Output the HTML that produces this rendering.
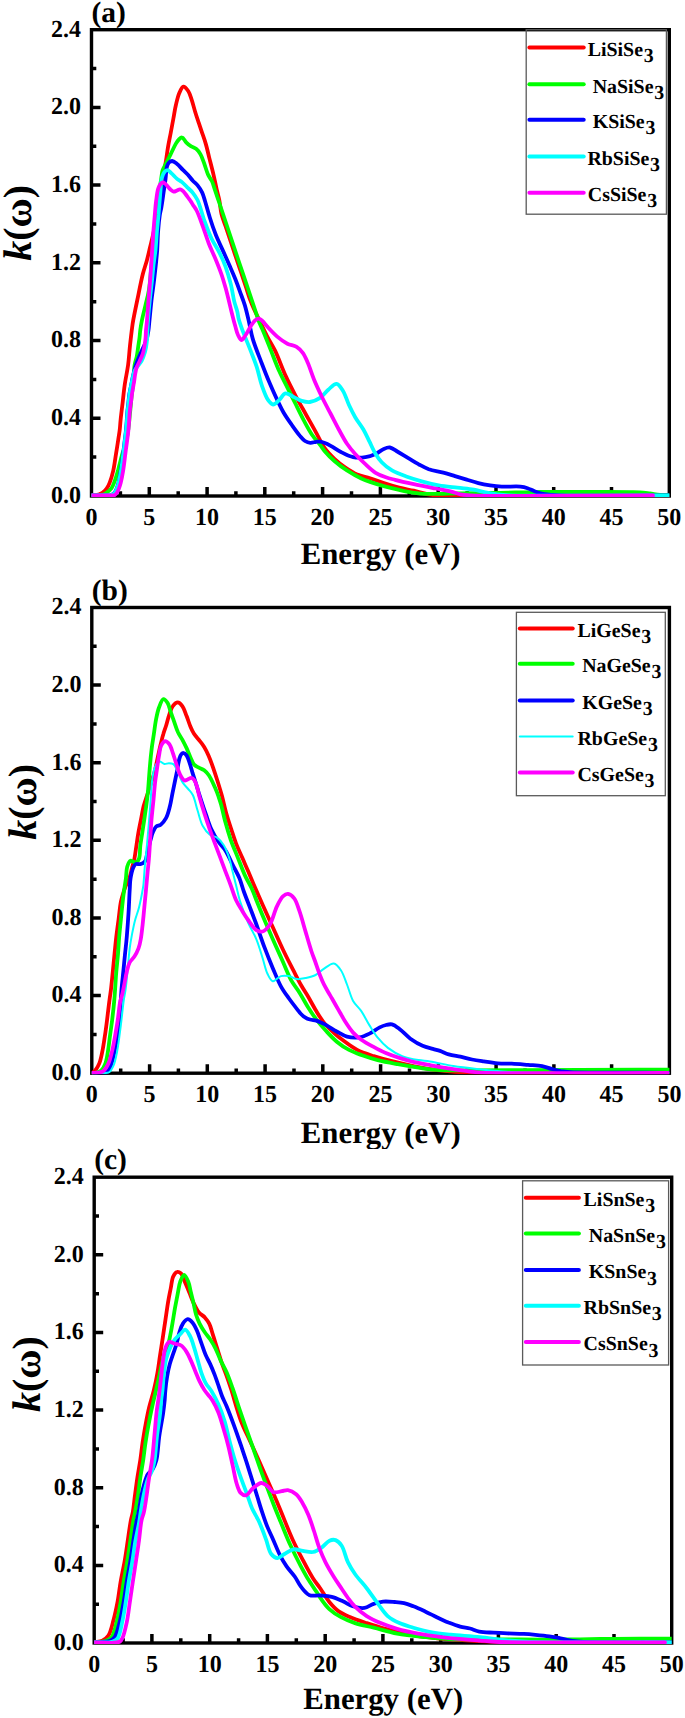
<!DOCTYPE html><html><head><meta charset="utf-8"><style>
html,body{margin:0;padding:0;background:#fff;width:685px;height:1718px;overflow:hidden}
svg{display:block;text-rendering:geometricPrecision}
text{font-family:"Liberation Serif", serif;font-weight:bold;fill:#000}
.t{font-size:24.0px}.xt{font-size:30.8px}.yt{font-size:40.0px}.pl{font-size:29.5px}.lg{font-size:19.9px}
</style></head><body>
<svg width="685" height="1718" viewBox="0 0 685 1718">
<rect x="91.5" y="29.7" width="577.8" height="466.3" fill="none" stroke="#000" stroke-width="3.4"/>
<path d="M120.4 496.0V491.2M149.3 496.0V487.0M178.2 496.0V491.2M207.1 496.0V487.0M235.9 496.0V491.2M264.8 496.0V487.0M293.7 496.0V491.2M322.6 496.0V487.0M351.5 496.0V491.2M380.4 496.0V487.0M409.3 496.0V491.2M438.2 496.0V487.0M467.1 496.0V491.2M496.0 496.0V487.0M524.9 496.0V491.2M553.7 496.0V487.0M582.6 496.0V491.2M611.5 496.0V487.0M640.4 496.0V491.2M91.5 457.1H96.3M91.5 418.3H100.5M91.5 379.4H96.3M91.5 340.6H100.5M91.5 301.7H96.3M91.5 262.8H100.5M91.5 224.0H96.3M91.5 185.1H100.5M91.5 146.3H96.3M91.5 107.4H100.5M91.5 68.6H96.3" stroke="#000" stroke-width="3.5" fill="none"/>
<clipPath id="clipa"><rect x="91.5" y="29.7" width="577.8" height="467.3"/></clipPath>
<g clip-path="url(#clipa)" fill="none" stroke-width="3.8" stroke-linejoin="round" stroke-linecap="round">
<path stroke="#ff0000" d="M91.8 495.5 C93.2 495.4 94.7 495.4 96.0 495.2 C97.2 495.0 98.1 494.7 99.2 494.3 C100.4 493.8 101.6 493.3 102.7 492.5 C104.1 491.5 105.7 490.0 106.8 488.4 C108.0 486.7 108.8 484.9 109.7 482.6 C111.0 479.4 112.2 475.2 113.2 470.9 C114.4 465.7 115.2 458.8 116.1 453.4 C116.9 448.6 117.6 444.1 118.2 440.0 C118.7 436.4 119.3 433.3 119.7 430.0 C120.1 426.7 120.2 423.8 120.6 420.0 C121.1 415.1 121.9 408.7 122.6 403.0 C123.3 397.1 123.8 391.1 124.7 385.0 C125.6 378.5 127.2 371.5 128.1 365.0 C128.9 359.0 129.2 353.3 129.8 347.5 C130.4 341.7 131.2 335.0 131.8 330.0 C132.3 326.3 132.5 324.2 133.2 320.4 C134.2 314.9 135.8 307.2 137.3 300.0 C139.0 291.8 141.0 281.1 142.9 273.8 C144.3 268.4 145.8 264.5 147.0 260.0 C148.1 255.7 149.0 251.7 150.0 247.5 C151.0 243.3 152.0 239.6 153.0 235.0 C154.2 229.6 155.4 223.2 156.5 217.0 C157.7 210.5 158.9 203.6 160.0 197.0 C161.1 190.6 162.0 184.1 163.0 178.0 C164.0 172.2 165.0 166.5 165.9 161.1 C166.7 156.2 167.2 151.8 168.0 147.1 C168.8 142.4 169.8 137.7 170.7 133.0 C171.6 128.3 172.4 123.7 173.3 119.0 C174.2 114.3 174.8 109.5 175.9 105.0 C176.9 100.8 177.9 96.1 179.4 92.8 C180.5 90.3 181.9 86.8 183.4 86.6 C184.8 86.4 186.9 89.1 188.2 91.0 C189.8 93.3 190.6 96.6 191.7 99.8 C193.0 103.5 194.0 108.1 195.2 112.0 C196.3 115.7 197.5 119.1 198.7 122.6 C199.9 126.1 201.0 129.6 202.2 133.1 C203.4 136.6 204.6 139.8 205.7 143.6 C207.0 147.9 208.0 152.7 209.2 157.6 C210.6 163.1 212.3 169.5 213.6 175.1 C214.8 180.3 215.8 185.5 216.8 190.0 C217.7 193.7 218.6 196.4 219.3 200.0 C220.2 204.3 220.4 209.6 221.5 214.0 C222.5 218.2 224.2 222.0 225.5 226.0 C226.8 230.0 228.2 234.0 229.5 238.0 C230.8 242.0 232.2 246.0 233.5 250.0 C234.8 254.0 236.2 258.0 237.5 262.0 C238.9 266.0 240.2 270.0 241.6 274.0 C242.9 278.0 244.3 282.0 245.6 286.0 C247.0 290.1 248.2 294.5 249.7 298.5 C251.1 302.2 252.4 305.4 254.0 309.0 C255.7 312.8 257.5 316.4 259.5 320.5 C261.8 325.3 264.4 330.9 267.0 336.0 C269.6 341.1 272.5 345.2 275.2 350.9 C278.6 358.0 281.9 367.7 285.4 375.4 C288.7 382.6 292.1 389.2 295.6 395.8 C298.9 402.1 302.4 408.1 305.8 414.2 C309.2 420.3 312.9 426.7 316.1 432.6 C319.1 437.9 321.3 443.4 324.5 447.9 C327.5 452.1 331.2 455.8 334.7 459.1 C338.0 462.2 341.3 464.8 345.0 467.3 C348.8 469.9 353.0 472.7 357.2 474.5 C361.3 476.3 365.6 476.8 370.0 478.2 C374.7 479.7 379.7 481.8 384.6 483.4 C389.4 485.0 394.3 486.5 399.2 487.7 C404.0 488.9 408.7 489.6 413.8 490.7 C419.4 491.9 424.7 494.0 431.3 494.8 C439.6 495.9 446.0 495.3 460.0 495.5 C497.7 496.0 599.3 495.5 669.0 495.5"/>
<path stroke="#00ff00" d="M91.8 495.4 C94.5 495.3 97.8 495.5 100.0 495.2 C101.6 495.0 102.8 494.8 104.0 494.3 C105.1 493.9 105.8 493.3 106.8 492.5 C108.2 491.5 110.2 490.0 111.4 488.4 C112.6 486.7 113.2 484.9 114.1 482.6 C115.4 479.4 116.8 474.5 117.9 470.9 C118.8 467.7 119.4 464.9 120.2 462.0 C121.0 459.1 121.7 455.9 122.5 453.4 C123.1 451.4 123.9 450.0 124.5 448.0 C125.2 445.6 125.9 442.9 126.5 440.0 C127.2 436.4 128.0 432.1 128.5 428.0 C129.1 423.8 129.4 419.0 129.8 415.0 C130.2 411.4 130.5 408.3 130.8 405.0 C131.1 401.7 131.4 398.3 131.8 395.0 C132.2 391.7 132.7 388.2 133.0 385.0 C133.3 381.9 133.5 379.2 133.8 376.0 C134.1 372.5 134.0 368.4 134.6 365.0 C135.1 361.9 136.2 359.2 136.8 356.3 C137.4 353.4 137.7 350.4 138.1 347.5 C138.5 344.6 139.0 341.7 139.4 338.8 C139.8 335.9 139.9 333.0 140.3 330.0 C140.7 326.9 141.2 324.0 141.9 320.4 C142.8 315.9 144.3 310.2 145.5 305.1 C146.7 300.1 148.0 295.7 148.9 290.0 C150.1 282.7 150.7 273.3 151.5 265.0 C152.3 256.7 152.8 248.3 153.5 240.0 C154.3 231.7 155.1 222.9 156.0 215.0 C156.8 208.0 157.6 201.2 158.5 195.0 C159.3 189.6 160.3 184.4 161.0 180.0 C161.6 176.4 161.7 173.3 162.6 170.4 C163.5 167.7 165.0 165.5 166.3 162.9 C167.7 160.1 169.2 157.2 170.7 154.1 C172.4 150.8 174.3 146.3 175.9 143.6 C177.0 141.8 177.9 140.4 179.0 139.3 C179.9 138.4 181.0 137.2 182.0 137.4 C183.4 137.6 184.9 141.2 186.4 142.7 C187.8 144.1 189.2 145.2 190.8 146.2 C192.4 147.2 194.5 147.6 196.1 148.8 C197.8 150.1 199.2 152.0 200.4 154.1 C201.9 156.6 202.8 159.7 204.0 162.9 C205.4 166.6 206.7 171.8 208.3 175.1 C209.5 177.6 210.9 179.0 212.0 181.3 C213.2 183.9 213.9 186.9 215.0 190.0 C216.2 193.7 217.7 198.0 219.0 202.0 C220.3 206.0 221.7 210.0 223.0 214.0 C224.3 218.0 225.7 222.0 227.0 226.0 C228.3 230.0 229.7 234.0 231.0 238.0 C232.3 242.0 233.7 246.0 235.0 250.0 C236.3 254.0 237.7 258.0 239.0 262.0 C240.4 266.0 241.7 270.0 243.1 274.0 C244.4 278.0 245.8 282.0 247.1 286.0 C248.4 290.0 249.8 294.0 251.1 298.0 C252.4 302.0 253.8 306.0 255.1 310.0 C256.5 314.1 257.8 318.9 259.3 322.6 C260.5 325.5 261.5 327.2 262.9 330.4 C265.1 335.6 268.4 344.1 271.1 350.9 C273.8 357.7 276.4 364.9 279.3 371.3 C281.9 377.1 284.7 382.2 287.4 387.7 C290.1 393.1 292.9 398.6 295.6 404.0 C298.3 409.5 301.0 415.2 303.8 420.4 C306.5 425.4 309.1 430.4 312.0 434.7 C314.6 438.5 317.8 441.9 320.1 444.9 C321.8 447.1 322.6 448.7 324.5 450.9 C327.1 454.0 331.0 458.0 334.7 461.2 C338.5 464.5 342.7 467.6 347.0 470.4 C351.5 473.3 357.1 476.5 361.3 478.5 C364.5 480.0 366.7 480.8 370.0 481.9 C374.2 483.4 379.7 485.0 384.6 486.3 C389.4 487.6 394.3 488.8 399.2 489.9 C404.1 491.0 408.9 492.1 413.8 492.8 C418.6 493.5 422.7 493.7 428.4 493.9 C436.5 494.1 448.5 493.5 457.6 493.3 C465.6 493.2 472.7 493.1 480.0 493.0 C486.9 492.9 493.8 492.9 500.0 492.8 C505.4 492.7 510.5 492.5 515.0 492.4 C518.7 492.3 521.3 492.4 525.0 492.3 C529.5 492.2 534.6 492.1 540.0 492.0 C546.2 491.9 552.2 492.0 560.0 492.0 C571.0 492.0 587.6 492.0 600.0 492.0 C610.7 492.0 622.7 492.0 630.0 492.1 C634.2 492.2 636.7 492.2 640.0 492.4 C643.3 492.6 646.7 493.1 650.0 493.5 C653.3 493.9 656.7 494.5 660.0 494.8 C663.1 495.1 666.0 495.1 669.0 495.2"/>
<path stroke="#0000ff" d="M91.8 495.4 C96.9 495.4 103.4 495.5 107.0 495.3 C108.9 495.2 110.2 495.3 111.5 494.8 C112.7 494.4 113.7 493.7 114.5 492.8 C115.5 491.7 116.1 490.0 116.8 488.4 C117.5 486.6 118.0 484.9 118.6 482.6 C119.4 479.4 120.1 475.2 120.8 470.9 C121.7 465.7 122.5 458.8 123.2 453.4 C123.8 448.6 124.3 444.1 124.8 440.0 C125.2 436.4 125.7 433.3 126.0 430.0 C126.3 426.7 126.6 423.2 126.8 420.0 C127.0 417.0 127.1 414.2 127.4 411.3 C127.7 408.4 128.1 405.5 128.4 402.6 C128.7 399.7 128.9 396.7 129.4 393.8 C129.9 390.9 130.6 388.0 131.2 385.0 C131.8 382.0 132.3 378.9 133.0 376.0 C133.6 373.2 134.3 370.5 135.0 368.0 C135.6 365.8 136.3 364.0 137.0 362.0 C137.8 360.0 138.6 358.1 139.5 356.0 C140.6 353.5 141.8 350.7 143.0 348.0 C144.2 345.3 145.6 342.9 146.5 340.0 C147.5 336.9 148.0 333.3 148.5 330.0 C149.0 326.7 149.1 323.9 149.5 320.0 C150.1 314.5 150.8 306.4 151.5 300.0 C152.2 294.0 153.1 288.4 153.8 282.6 C154.5 276.8 155.2 270.6 155.8 265.0 C156.3 259.8 156.8 255.4 157.2 250.0 C157.6 243.8 157.7 236.2 158.2 230.0 C158.6 224.6 159.2 219.0 159.8 215.0 C160.2 212.3 160.7 211.0 161.2 208.4 C161.9 204.5 162.7 198.7 163.4 193.8 C164.1 188.9 164.9 183.9 165.5 179.2 C166.1 174.8 166.1 169.5 167.0 166.5 C167.5 164.7 168.1 163.4 169.0 162.5 C169.8 161.7 171.0 161.0 172.1 161.0 C173.5 161.1 175.2 162.5 176.8 163.7 C178.8 165.2 180.9 167.9 182.9 169.9 C184.7 171.7 186.6 173.3 188.2 175.1 C189.8 176.8 191.0 178.7 192.6 180.4 C194.2 182.2 196.2 183.6 197.8 185.6 C199.5 187.7 201.0 190.1 202.2 192.6 C203.4 195.2 204.0 197.7 205.0 201.0 C206.4 205.6 208.0 211.9 209.8 217.5 C211.6 223.3 213.6 229.2 215.9 235.0 C218.3 240.9 221.3 247.1 223.8 252.6 C226.0 257.5 228.0 262.1 230.0 266.6 C231.8 270.8 233.6 274.7 235.2 278.8 C236.8 282.9 238.3 286.9 239.8 291.1 C241.4 295.6 243.3 300.2 244.8 305.1 C246.4 310.4 247.7 316.4 249.0 322.0 C250.3 327.6 251.0 332.7 252.7 338.6 C254.7 345.6 258.1 353.8 260.9 361.1 C263.6 368.1 266.2 374.9 269.0 381.5 C271.7 387.8 274.6 394.4 277.2 399.9 C279.4 404.4 281.1 408.2 283.4 412.2 C285.8 416.4 288.7 420.5 291.5 424.5 C294.2 428.3 297.2 432.6 299.7 435.6 C301.6 437.8 303.1 439.8 305.0 441.0 C306.6 442.0 308.4 442.7 310.2 442.8 C312.1 443.0 314.3 442.0 316.1 441.8 C317.6 441.7 319.0 441.5 320.4 441.7 C321.7 441.9 322.8 442.3 324.2 442.8 C326.1 443.5 328.3 444.5 330.7 445.8 C333.8 447.4 337.3 450.2 340.9 452.0 C344.7 453.9 348.9 456.3 353.1 457.1 C357.1 457.9 361.5 457.7 365.4 457.1 C369.0 456.6 372.5 455.4 375.6 454.0 C378.6 452.6 381.2 450.0 383.8 448.9 C385.9 448.0 387.8 447.2 389.9 447.5 C392.5 447.9 395.2 450.4 398.1 452.0 C401.3 453.9 404.9 456.1 408.3 458.1 C411.7 460.1 415.1 462.3 418.5 464.2 C421.9 466.0 425.0 467.9 428.8 469.3 C433.2 470.8 438.8 471.4 443.4 472.6 C447.5 473.7 451.1 474.9 455.0 476.1 C458.9 477.3 462.8 478.4 466.7 479.6 C470.6 480.8 474.5 482.1 478.4 483.1 C482.3 484.1 486.2 484.8 490.1 485.4 C494.0 486.0 497.4 486.4 501.8 486.6 C507.3 486.9 515.7 486.1 520.4 486.6 C523.3 486.9 525.2 487.4 527.5 488.2 C529.9 489.0 532.1 490.3 534.5 491.2 C536.8 492.1 539.0 493.0 541.5 493.6 C544.3 494.3 547.7 494.5 550.8 494.8 C553.9 495.1 555.2 495.3 560.0 495.5 C576.4 496.1 632.7 495.5 669.0 495.5"/>
<path stroke="#00ffff" d="M91.8 495.4 C97.2 495.4 104.4 495.5 108.0 495.3 C109.8 495.2 110.8 495.3 112.0 494.8 C113.1 494.4 114.0 493.7 114.8 492.8 C115.7 491.7 116.4 490.0 117.0 488.4 C117.7 486.6 118.2 484.9 118.8 482.6 C119.6 479.4 120.3 475.2 121.0 470.9 C121.9 465.7 122.7 458.8 123.4 453.4 C124.0 448.6 124.5 444.1 125.0 440.0 C125.4 436.4 125.9 433.3 126.2 430.0 C126.5 426.7 126.8 423.2 127.0 420.0 C127.2 417.0 127.3 414.2 127.6 411.3 C127.9 408.4 128.3 405.5 128.6 402.6 C128.9 399.7 129.2 396.7 129.6 393.8 C130.1 390.9 130.7 387.8 131.3 385.0 C131.8 382.5 132.3 380.3 132.8 378.0 C133.3 375.7 133.6 373.0 134.5 371.0 C135.3 369.3 136.4 368.1 137.5 366.5 C138.7 364.7 140.3 363.1 141.5 361.0 C142.9 358.4 144.1 355.1 145.0 352.0 C145.9 348.8 146.4 345.5 146.8 342.0 C147.3 338.2 147.3 333.8 147.5 330.0 C147.7 326.5 147.7 323.9 148.0 320.0 C148.4 314.5 149.1 306.5 149.8 300.0 C150.4 293.8 151.2 287.9 151.8 282.0 C152.4 276.3 152.9 270.5 153.5 265.0 C154.1 259.8 154.9 255.4 155.5 250.0 C156.1 243.8 156.5 236.2 157.0 230.0 C157.5 224.6 158.0 220.0 158.5 215.0 C158.9 210.0 159.3 204.5 159.7 200.0 C160.0 196.3 160.2 193.5 160.5 190.0 C160.9 186.1 161.0 181.0 161.9 177.7 C162.5 175.4 163.4 173.3 164.5 172.0 C165.3 171.0 166.5 170.1 167.5 170.2 C168.8 170.3 170.1 172.2 171.5 173.4 C173.2 174.9 175.0 177.1 176.8 178.6 C178.5 180.0 180.3 180.7 182.0 182.1 C183.8 183.6 185.5 185.6 187.3 187.4 C189.1 189.1 191.0 190.6 192.6 192.6 C194.4 194.8 195.9 196.8 197.5 200.0 C200.0 205.1 202.1 214.4 204.5 221.0 C206.7 227.1 208.9 233.1 211.5 238.5 C213.9 243.5 217.0 247.8 219.4 252.6 C221.7 257.2 223.7 261.6 225.5 266.6 C227.5 272.1 229.3 278.2 230.8 284.1 C232.3 289.9 233.0 296.5 234.3 301.6 C235.3 305.5 236.6 308.8 237.4 312.0 C238.0 314.6 238.0 316.5 238.7 319.1 C239.6 322.5 240.9 326.1 242.5 330.4 C244.7 336.2 248.2 344.4 250.7 350.9 C252.9 356.6 255.0 361.6 256.8 367.2 C258.7 373.1 259.9 379.9 261.9 385.6 C263.7 390.7 265.7 396.6 268.0 399.9 C269.6 402.1 271.3 404.4 273.1 404.5 C275.0 404.6 277.3 401.7 279.3 399.9 C281.4 398.0 283.0 393.9 285.4 393.4 C287.8 392.9 290.9 395.7 293.6 396.9 C296.3 398.2 298.9 400.1 301.7 400.9 C304.4 401.7 307.1 402.4 309.9 402.0 C313.2 401.6 317.1 399.9 320.1 397.9 C323.2 395.8 325.5 392.1 328.3 389.7 C331.0 387.4 334.1 383.5 336.6 383.8 C339.0 384.1 341.0 387.8 342.9 390.7 C345.3 394.5 346.9 400.5 349.0 405.0 C351.0 409.3 352.9 413.2 355.2 417.2 C357.6 421.4 361.0 425.3 363.4 429.5 C365.7 433.5 367.5 437.6 369.5 441.7 C371.5 445.8 373.4 450.4 375.6 454.0 C377.5 457.1 379.2 459.6 381.7 462.2 C384.5 465.1 388.1 468.1 392.0 470.4 C396.2 472.9 401.3 474.7 406.3 476.5 C411.5 478.4 417.2 480.1 422.6 481.6 C428.0 483.1 433.1 484.4 438.7 485.4 C444.7 486.5 451.4 487.0 457.4 487.7 C463.0 488.4 468.7 488.7 473.7 489.6 C477.9 490.4 481.5 491.6 485.4 492.4 C489.3 493.2 493.1 493.8 497.1 494.3 C501.3 494.8 503.3 495.0 510.0 495.3 C533.5 496.2 616.0 495.4 669.0 495.5"/>
<path stroke="#ff00ff" d="M91.8 495.4 C98.5 495.4 108.5 495.5 112.0 495.4 C113.2 495.4 113.7 495.5 114.4 495.2 C115.2 494.8 116.0 494.0 116.7 493.1 C117.6 491.9 118.3 490.1 119.0 488.4 C119.7 486.6 120.2 484.9 120.8 482.6 C121.6 479.4 122.4 475.2 123.1 470.9 C124.0 465.7 124.7 458.8 125.4 453.4 C126.0 448.6 126.7 444.1 127.2 440.0 C127.7 436.4 128.1 433.3 128.4 430.0 C128.7 426.7 129.0 423.2 129.2 420.0 C129.4 417.0 129.5 414.2 129.8 411.3 C130.1 408.4 130.5 405.5 130.9 402.6 C131.3 399.7 131.6 396.7 132.0 393.8 C132.4 390.9 133.1 387.4 133.5 385.0 C133.8 383.4 134.0 382.5 134.2 381.0 C134.5 379.0 134.8 376.1 135.2 373.8 C135.6 371.5 136.0 369.4 136.8 367.2 C137.6 365.0 138.8 362.9 139.8 360.7 C140.8 358.5 142.0 356.3 142.7 354.1 C143.4 351.9 143.8 349.9 144.2 347.5 C144.7 344.8 145.2 341.7 145.5 338.8 C145.8 335.9 145.8 333.0 146.0 330.0 C146.3 326.9 146.7 324.2 147.0 320.4 C147.5 314.9 148.0 306.6 148.5 300.0 C149.0 293.8 149.5 287.9 150.0 282.0 C150.4 276.3 150.8 270.9 151.2 265.0 C151.6 258.6 152.1 251.2 152.5 245.0 C152.9 239.6 153.1 235.0 153.5 230.0 C153.9 225.0 154.4 219.9 154.8 215.0 C155.2 210.3 155.5 205.6 156.1 201.1 C156.7 196.8 157.2 191.8 158.2 188.7 C158.8 186.7 159.6 185.1 160.5 184.0 C161.1 183.3 161.9 182.6 162.6 182.5 C163.4 182.4 164.2 183.0 165.0 183.5 C166.0 184.2 166.8 185.5 167.7 186.5 C168.6 187.5 169.5 188.6 170.5 189.5 C171.5 190.3 172.5 191.4 173.6 191.6 C174.7 191.8 175.9 190.9 177.0 190.5 C178.1 190.1 179.1 189.3 180.1 189.4 C181.1 189.5 182.1 190.3 183.0 191.0 C183.9 191.7 184.5 192.8 185.3 193.8 C186.2 194.9 187.1 196.2 188.0 197.5 C188.9 198.8 189.9 200.1 190.8 201.4 C191.6 202.6 192.2 203.7 193.0 205.0 C194.0 206.6 195.4 208.1 196.6 210.5 C198.6 214.3 200.8 220.9 202.8 226.3 C204.9 232.0 206.8 238.3 208.9 243.8 C210.8 248.8 213.0 253.0 215.0 257.8 C217.1 262.9 219.4 268.5 221.2 273.6 C222.9 278.4 224.1 282.7 225.5 287.6 C227.0 293.1 228.7 300.1 229.9 305.1 C230.8 308.9 231.4 311.6 232.3 315.0 C233.2 318.6 234.3 322.8 235.3 326.3 C236.2 329.4 236.8 332.6 238.0 335.0 C239.0 337.0 240.2 339.9 241.4 340.0 C242.5 340.1 243.8 337.7 245.0 336.0 C246.8 333.5 248.9 329.1 250.7 326.3 C252.2 324.1 253.4 321.8 255.0 320.5 C256.2 319.5 257.6 318.5 258.8 318.6 C260.1 318.7 261.3 319.9 262.5 321.0 C264.0 322.3 265.2 324.3 267.0 326.3 C269.7 329.2 273.7 333.6 277.2 336.6 C280.5 339.4 284.0 342.0 287.4 343.7 C290.4 345.2 294.0 345.2 296.6 346.8 C299.1 348.3 301.0 350.4 302.8 352.9 C304.9 355.7 306.2 359.2 307.9 363.1 C310.0 367.9 311.7 373.9 314.0 379.5 C316.4 385.4 319.4 391.7 322.2 397.5 C324.9 403.0 327.7 408.2 330.5 413.5 C333.3 418.8 336.0 424.3 338.8 429.5 C341.5 434.4 344.1 439.5 347.0 443.8 C349.6 447.6 352.2 450.7 355.2 454.0 C358.3 457.5 361.9 461.0 365.4 464.2 C368.7 467.3 372.0 470.6 375.6 472.8 C378.9 474.8 382.4 476.1 385.8 477.3 C388.9 478.4 391.4 478.9 395.0 479.8 C400.1 481.1 407.3 482.7 413.8 484.1 C420.8 485.6 429.1 487.2 435.7 488.5 C441.1 489.6 445.9 490.3 450.3 491.4 C454.0 492.3 457.1 493.6 460.5 494.3 C463.7 494.9 464.8 495.0 470.0 495.3 C492.6 496.5 592.0 495.4 653.0 495.5"/>
</g>
<text transform="translate(91.5 525.4) scale(1 1.020)" text-anchor="middle" class="t">0</text>
<text transform="translate(149.3 525.4) scale(1 1.020)" text-anchor="middle" class="t">5</text>
<text transform="translate(207.1 525.4) scale(1 1.020)" text-anchor="middle" class="t">10</text>
<text transform="translate(264.8 525.4) scale(1 1.020)" text-anchor="middle" class="t">15</text>
<text transform="translate(322.6 525.4) scale(1 1.020)" text-anchor="middle" class="t">20</text>
<text transform="translate(380.4 525.4) scale(1 1.020)" text-anchor="middle" class="t">25</text>
<text transform="translate(438.2 525.4) scale(1 1.020)" text-anchor="middle" class="t">30</text>
<text transform="translate(496.0 525.4) scale(1 1.020)" text-anchor="middle" class="t">35</text>
<text transform="translate(553.7 525.4) scale(1 1.020)" text-anchor="middle" class="t">40</text>
<text transform="translate(611.5 525.4) scale(1 1.020)" text-anchor="middle" class="t">45</text>
<text transform="translate(669.3 525.4) scale(1 1.020)" text-anchor="middle" class="t">50</text>
<text transform="translate(81.1 502.8) scale(1 1.020)" text-anchor="end" class="t">0.0</text>
<text transform="translate(81.1 425.1) scale(1 1.020)" text-anchor="end" class="t">0.4</text>
<text transform="translate(81.1 347.4) scale(1 1.020)" text-anchor="end" class="t">0.8</text>
<text transform="translate(81.1 269.6) scale(1 1.020)" text-anchor="end" class="t">1.2</text>
<text transform="translate(81.1 191.9) scale(1 1.020)" text-anchor="end" class="t">1.6</text>
<text transform="translate(81.1 114.2) scale(1 1.020)" text-anchor="end" class="t">2.0</text>
<text transform="translate(81.1 36.5) scale(1 1.020)" text-anchor="end" class="t">2.4</text>
<text x="380.6" y="563.6" text-anchor="middle" class="xt">Energy (eV)</text>
<text transform="translate(30.9 222.9) rotate(-90)" text-anchor="middle" class="yt"><tspan font-style="italic">k</tspan>(ω)</text>
<text x="91.5" y="21.9" class="pl">(a)</text>
<rect x="526.2" y="29.7" width="140.2" height="184.5" fill="none" stroke="#5a5a5a" stroke-width="1.3"/>
<path d="M529.4 47.6H583.7" stroke="#ff0000" stroke-width="4.0" stroke-linecap="round"/>
<text x="587.7" y="55.9" class="lg">LiSiSe<tspan dx="0.8" dy="6.3">3</tspan></text>
<path d="M529.4 84.3H583.7" stroke="#00ff00" stroke-width="4.0" stroke-linecap="round"/>
<text x="592.7" y="92.6" class="lg">NaSiSe<tspan dx="0.8" dy="6.3">3</tspan></text>
<path d="M529.4 119.8H583.7" stroke="#0000ff" stroke-width="4.0" stroke-linecap="round"/>
<text x="592.7" y="128.1" class="lg">KSiSe<tspan dx="0.8" dy="6.3">3</tspan></text>
<path d="M529.4 156.6H583.7" stroke="#00ffff" stroke-width="4.0" stroke-linecap="round"/>
<text x="587.4" y="164.9" class="lg">RbSiSe<tspan dx="0.8" dy="6.3">3</tspan></text>
<path d="M529.4 192.7H583.7" stroke="#ff00ff" stroke-width="4.0" stroke-linecap="round"/>
<text x="587.8" y="201.0" class="lg">CsSiSe<tspan dx="0.8" dy="6.3">3</tspan></text>
<clipPath id="pcb"><rect x="0" y="0" width="685" height="1149.0"/></clipPath><g clip-path="url(#pcb)">
<rect x="91.8" y="607.5" width="577.6" height="465.7" fill="none" stroke="#000" stroke-width="3.4"/>
<path d="M120.7 1073.2V1068.4M149.6 1073.2V1064.2M178.4 1073.2V1068.4M207.3 1073.2V1064.2M236.2 1073.2V1068.4M265.1 1073.2V1064.2M294.0 1073.2V1068.4M322.8 1073.2V1064.2M351.7 1073.2V1068.4M380.6 1073.2V1064.2M409.5 1073.2V1068.4M438.4 1073.2V1064.2M467.2 1073.2V1068.4M496.1 1073.2V1064.2M525.0 1073.2V1068.4M553.9 1073.2V1064.2M582.8 1073.2V1068.4M611.6 1073.2V1064.2M640.5 1073.2V1068.4M91.8 1034.4H96.6M91.8 995.6H100.8M91.8 956.8H96.6M91.8 918.0H100.8M91.8 879.2H96.6M91.8 840.3H100.8M91.8 801.5H96.6M91.8 762.7H100.8M91.8 723.9H96.6M91.8 685.1H100.8M91.8 646.3H96.6" stroke="#000" stroke-width="3.5" fill="none"/>
<clipPath id="clipb"><rect x="91.8" y="607.5" width="577.6" height="466.7"/></clipPath>
<g clip-path="url(#clipb)" fill="none" stroke-width="3.8" stroke-linejoin="round" stroke-linecap="round">
<path stroke="#ff0000" d="M91.8 1073.0 C92.1 1072.9 92.3 1072.8 92.7 1072.6 C93.3 1072.2 94.4 1071.5 95.2 1070.5 C96.5 1068.9 98.2 1066.2 99.3 1063.4 C100.7 1059.9 101.5 1055.4 102.4 1051.1 C103.4 1046.3 104.1 1040.9 104.9 1035.8 C105.7 1030.7 106.3 1025.9 107.0 1020.4 C107.8 1014.1 108.7 1005.7 109.5 1000.0 C110.0 995.9 110.5 993.3 111.0 989.3 C111.6 984.2 112.2 977.6 112.8 971.8 C113.4 965.9 113.9 960.1 114.5 954.2 C115.1 948.4 115.6 942.5 116.3 936.7 C117.0 930.9 117.8 925.0 118.6 919.2 C119.4 913.4 119.9 906.6 120.9 901.7 C121.7 898.0 122.6 895.1 123.6 892.0 C124.5 889.2 125.5 886.4 126.5 884.0 C127.4 882.0 128.4 880.8 129.2 878.6 C130.3 875.7 131.1 871.4 132.0 868.0 C132.8 864.8 133.7 862.2 134.4 858.8 C135.2 854.8 135.7 850.1 136.4 845.7 C137.1 841.3 137.6 837.0 138.4 832.6 C139.2 828.2 140.1 823.8 141.0 819.4 C141.9 815.0 142.6 810.4 143.6 806.3 C144.6 802.6 145.8 799.3 146.9 795.8 C148.1 792.2 149.3 788.8 150.5 785.0 C151.8 780.8 153.4 776.2 154.6 771.8 C155.8 767.4 156.5 763.0 157.5 758.6 C158.5 754.2 159.4 749.7 160.4 745.5 C161.4 741.5 162.3 737.4 163.4 733.8 C164.3 730.6 165.4 728.1 166.3 725.0 C167.3 721.7 168.1 718.0 169.2 714.8 C170.3 711.8 171.1 708.2 172.8 706.1 C174.1 704.4 176.1 702.4 177.7 702.4 C179.3 702.4 181.0 704.3 182.3 706.1 C184.1 708.5 185.3 712.9 186.7 716.3 C188.0 719.7 189.1 723.4 190.4 726.5 C191.5 729.2 192.5 731.4 194.0 733.8 C195.6 736.3 198.1 738.8 199.9 741.1 C201.5 743.1 202.8 744.7 204.2 746.9 C205.8 749.5 207.2 752.5 208.6 755.7 C210.2 759.3 211.6 763.3 213.0 767.4 C214.5 771.7 216.0 776.3 217.5 781.0 C219.0 785.9 220.6 790.8 222.0 796.0 C223.5 801.7 224.8 808.2 226.4 813.8 C227.8 818.8 229.2 823.0 230.8 827.8 C232.5 832.9 234.2 838.5 236.1 843.6 C238.0 848.5 240.2 852.9 242.2 857.6 C244.2 862.3 246.4 867.1 248.3 871.6 C250.1 875.9 251.5 879.4 253.5 884.0 C256.1 890.0 259.4 897.5 262.5 904.5 C265.8 911.8 269.3 919.5 272.7 927.0 C276.1 934.5 279.4 942.2 282.9 949.5 C286.2 956.5 289.9 963.6 293.1 969.9 C296.0 975.5 298.6 980.8 301.3 985.5 C303.6 989.6 305.8 992.8 308.2 996.8 C310.8 1001.3 313.5 1006.6 316.3 1011.1 C318.9 1015.4 321.4 1019.6 324.5 1023.4 C327.6 1027.1 331.2 1030.5 334.7 1033.6 C338.0 1036.6 341.4 1039.1 345.0 1041.7 C348.8 1044.5 352.7 1047.6 357.2 1049.9 C362.1 1052.4 367.9 1054.2 373.6 1056.1 C379.5 1058.0 385.5 1059.6 392.0 1061.2 C399.1 1063.0 406.7 1064.8 414.4 1066.3 C422.6 1067.9 431.1 1069.4 440.0 1070.4 C449.6 1071.5 455.6 1072.1 470.0 1072.6 C507.1 1074.0 602.7 1072.7 669.0 1072.8"/>
<path stroke="#00ff00" d="M91.8 1073.0 C93.3 1072.9 94.7 1073.2 96.2 1072.8 C97.9 1072.4 99.9 1071.8 101.3 1070.5 C103.0 1068.9 104.3 1066.2 105.4 1063.4 C106.7 1059.9 107.3 1055.4 108.0 1051.1 C108.8 1046.3 109.3 1040.9 110.0 1035.8 C110.7 1030.7 111.4 1025.9 112.1 1020.4 C112.9 1014.1 113.8 1005.7 114.3 1000.0 C114.7 995.9 114.8 993.3 115.1 989.3 C115.5 984.2 115.8 977.6 116.3 971.8 C116.8 965.9 117.5 960.1 118.0 954.2 C118.5 948.4 118.7 942.5 119.2 936.7 C119.7 930.9 120.3 925.0 120.9 919.2 C121.5 913.4 122.1 906.7 122.7 901.7 C123.1 897.9 123.4 895.3 123.9 891.7 C124.5 887.6 125.3 882.9 125.9 878.6 C126.4 874.5 126.2 869.9 127.2 866.7 C128.0 864.3 129.2 861.3 130.5 860.8 C131.3 860.5 132.2 861.2 133.0 861.5 C133.9 861.8 134.8 863.0 135.7 862.8 C136.8 862.5 138.2 860.7 139.0 858.8 C140.2 855.8 139.8 850.1 140.3 845.7 C140.9 841.3 141.6 837.0 142.3 832.6 C143.0 828.2 143.6 823.8 144.3 819.4 C144.9 815.0 145.6 810.7 146.2 806.3 C146.8 801.9 147.3 797.6 147.8 793.0 C148.3 788.2 148.6 783.0 149.0 778.0 C149.4 773.0 149.7 768.0 150.2 763.0 C150.6 758.1 151.1 753.3 151.7 748.4 C152.3 743.5 153.2 738.7 153.9 733.8 C154.6 728.9 155.2 723.8 156.1 719.2 C156.9 715.1 157.7 711.0 159.0 707.5 C160.2 704.4 161.7 699.4 163.4 699.1 C164.7 698.9 166.5 701.3 167.7 703.1 C169.1 705.3 169.6 708.9 170.7 711.9 C171.8 715.2 173.1 718.7 174.3 722.1 C175.5 725.5 176.6 729.2 178.0 732.3 C179.3 735.0 180.9 737.0 182.3 739.6 C183.8 742.4 185.3 745.4 186.7 748.4 C188.0 751.3 189.1 754.4 190.4 757.2 C191.6 759.8 192.5 762.7 194.0 764.5 C195.2 765.9 196.8 766.5 198.4 767.4 C200.2 768.4 202.5 769.0 204.2 770.3 C206.0 771.7 207.5 773.3 209.0 775.5 C211.1 778.6 213.3 783.8 215.0 787.5 C216.4 790.7 217.5 793.5 218.5 796.5 C219.5 799.4 220.3 801.6 221.2 805.0 C222.5 809.8 223.9 816.8 225.5 822.6 C227.1 828.5 228.8 834.3 230.8 840.1 C232.9 846.0 235.5 851.8 237.8 857.6 C240.1 863.4 242.4 869.8 244.8 875.1 C246.9 879.8 249.4 883.5 251.5 888.0 C253.7 892.8 255.4 897.8 257.5 903.0 C259.7 908.5 261.9 913.9 264.5 920.0 C267.5 927.2 271.5 936.1 274.7 943.4 C277.6 949.9 280.2 955.6 282.9 961.7 C285.6 967.8 288.1 974.6 291.1 980.1 C293.8 985.0 297.2 988.9 300.0 993.5 C302.9 998.1 305.4 1003.1 308.2 1007.5 C310.8 1011.7 313.3 1015.4 316.3 1019.3 C319.4 1023.4 323.1 1027.7 326.6 1031.5 C329.9 1035.1 333.1 1038.6 336.8 1041.7 C340.5 1044.8 344.8 1047.7 349.0 1049.9 C353.0 1052.0 356.9 1053.4 361.3 1055.0 C366.3 1056.8 371.9 1058.6 377.7 1060.1 C384.1 1061.7 391.0 1062.9 398.1 1064.2 C405.9 1065.6 415.1 1067.3 422.6 1068.3 C428.9 1069.2 433.4 1069.8 440.0 1070.2 C448.6 1070.7 458.7 1070.3 470.0 1070.3 C484.5 1070.3 502.6 1070.3 520.0 1070.2 C539.1 1070.1 558.0 1069.9 580.0 1069.8 C606.8 1069.7 639.3 1069.7 669.0 1069.7"/>
<path stroke="#0000ff" d="M91.8 1073.0 C95.9 1073.0 101.5 1073.2 104.0 1072.9 C105.2 1072.8 105.7 1072.9 106.5 1072.4 C107.9 1071.5 109.3 1069.0 110.5 1066.4 C112.2 1062.6 113.4 1056.9 114.6 1051.1 C116.2 1043.7 117.7 1033.6 118.7 1025.5 C119.6 1018.3 120.0 1011.4 120.5 1005.0 C120.9 999.4 121.1 994.7 121.5 989.3 C122.0 983.6 122.7 977.6 123.3 971.8 C123.9 965.9 124.4 960.1 125.0 954.2 C125.6 948.4 126.3 943.0 126.8 936.7 C127.4 929.5 128.0 921.2 128.5 913.4 C129.0 905.6 129.3 896.4 129.7 890.0 C130.0 885.5 129.9 882.3 130.5 878.6 C131.1 875.0 132.0 870.6 133.1 868.0 C133.8 866.3 134.5 864.7 135.7 864.1 C136.9 863.5 138.8 864.5 140.3 864.1 C141.9 863.7 143.7 863.0 144.9 861.5 C146.5 859.5 146.6 855.4 147.5 852.0 C148.6 848.0 149.8 842.7 150.8 839.1 C151.5 836.6 151.9 834.7 152.8 832.6 C153.7 830.5 154.6 827.9 156.1 826.6 C157.4 825.5 159.2 825.8 160.7 824.7 C162.6 823.3 164.5 820.8 166.0 818.1 C167.8 814.9 168.8 810.4 169.9 806.3 C171.0 802.1 171.6 797.5 172.5 793.1 C173.4 788.7 174.4 784.0 175.2 780.0 C175.9 776.5 176.5 773.7 177.2 770.3 C177.9 766.6 178.5 761.6 179.4 758.6 C180.0 756.7 180.6 755.0 181.5 754.0 C182.1 753.3 182.8 752.7 183.5 752.8 C184.5 752.9 185.8 754.4 186.7 755.7 C187.9 757.5 188.7 760.3 189.6 763.0 C190.7 766.1 191.6 769.9 192.6 773.2 C193.6 776.2 194.5 779.0 195.5 782.0 C196.5 785.2 197.5 788.9 198.5 792.0 C199.4 794.8 200.0 796.8 201.0 799.8 C202.4 804.1 204.5 810.4 206.3 815.5 C208.0 820.3 209.4 825.2 211.5 829.6 C213.5 833.9 216.0 838.1 218.5 841.8 C220.7 845.1 223.3 847.2 225.5 850.6 C228.1 854.6 230.2 859.9 232.6 864.6 C234.9 869.3 237.7 873.9 239.6 878.6 C241.4 883.0 242.4 887.6 244.0 892.0 C245.6 896.4 247.2 900.4 249.0 905.0 C251.0 910.3 253.2 915.8 255.5 922.0 C258.3 929.6 261.5 939.4 264.5 947.4 C267.2 954.6 269.9 961.3 272.7 967.9 C275.4 974.2 277.9 980.9 280.9 986.3 C283.4 990.9 286.2 994.6 289.0 998.5 C291.7 1002.3 295.0 1006.5 297.2 1009.3 C298.7 1011.2 299.6 1012.6 301.0 1014.0 C302.4 1015.4 303.9 1016.7 305.5 1017.6 C306.9 1018.5 308.3 1019.0 310.0 1019.5 C311.9 1020.1 314.4 1020.0 316.3 1020.6 C318.0 1021.1 319.4 1021.8 321.0 1022.6 C322.8 1023.4 324.5 1024.2 326.6 1025.4 C329.5 1027.0 333.4 1029.6 336.8 1031.5 C340.2 1033.3 343.3 1035.6 347.0 1036.6 C350.8 1037.6 355.4 1037.9 359.3 1037.3 C362.9 1036.8 366.2 1035.2 369.5 1033.6 C373.0 1031.9 376.6 1028.9 379.7 1027.4 C382.0 1026.3 383.9 1025.5 386.0 1025.0 C388.0 1024.5 389.9 1023.9 392.0 1024.4 C394.6 1025.0 397.3 1027.4 400.1 1029.5 C403.4 1032.0 406.7 1036.0 410.4 1038.7 C414.2 1041.4 418.6 1044.1 422.6 1045.8 C426.1 1047.3 429.7 1048.0 432.8 1048.9 C435.4 1049.7 437.5 1050.1 440.0 1050.9 C442.8 1051.8 445.5 1053.5 448.7 1054.4 C452.3 1055.5 456.5 1055.9 460.4 1056.7 C464.3 1057.6 468.1 1058.7 472.0 1059.5 C475.9 1060.3 479.6 1060.8 483.7 1061.4 C488.2 1062.1 493.0 1062.9 497.7 1063.3 C502.4 1063.7 506.9 1063.5 511.8 1063.7 C517.0 1064.0 522.9 1064.5 528.1 1064.9 C532.9 1065.3 537.9 1065.3 542.1 1066.1 C545.6 1066.8 548.4 1068.0 551.5 1068.9 C554.6 1069.7 557.7 1070.6 560.8 1071.2 C563.9 1071.7 565.4 1071.9 570.2 1072.2 C585.7 1073.1 636.1 1072.6 669.0 1072.8"/>
<path stroke="#00ffff" stroke-width="2.0" d="M91.8 1073.0 C96.5 1073.0 102.9 1073.3 106.0 1072.9 C107.6 1072.7 108.4 1072.8 109.5 1072.0 C111.1 1070.8 112.4 1068.1 113.6 1065.4 C115.2 1061.6 116.1 1056.6 117.2 1051.1 C118.6 1043.8 119.7 1034.0 120.8 1025.5 C121.9 1017.0 122.8 1006.7 123.8 1000.0 C124.4 995.7 125.1 993.3 125.6 989.3 C126.3 984.2 126.9 977.0 127.4 971.8 C127.8 967.5 128.1 964.0 128.5 960.1 C128.9 956.2 129.2 952.5 129.7 948.4 C130.3 943.9 131.1 939.1 132.0 934.4 C132.9 929.7 133.8 924.9 135.0 920.4 C136.2 916.0 137.8 912.2 139.0 907.5 C140.4 902.1 141.9 894.0 142.6 890.0 C143.0 887.9 143.1 887.3 143.4 885.1 C143.9 880.7 144.3 872.0 144.9 865.4 C145.5 858.8 146.2 853.4 146.9 845.7 C147.9 834.8 149.3 818.1 150.2 806.3 C151.0 796.7 151.3 787.0 152.2 780.0 C152.8 775.2 153.4 771.2 154.5 768.0 C155.3 765.7 156.3 763.5 157.5 762.5 C158.3 761.8 159.1 761.4 160.1 761.5 C161.4 761.6 163.0 763.8 164.5 764.1 C165.9 764.3 167.4 763.2 168.9 763.2 C170.4 763.2 172.0 763.2 173.3 764.1 C174.9 765.2 175.9 767.9 177.0 770.0 C178.1 772.2 179.0 774.8 180.0 777.0 C180.9 779.1 181.6 781.0 182.9 782.9 C184.3 785.0 186.5 786.9 188.2 789.0 C189.8 791.0 191.5 792.4 192.8 795.0 C194.8 798.8 195.9 805.2 197.5 810.3 C199.2 815.5 200.4 821.8 202.8 826.1 C204.7 829.6 207.2 832.9 209.8 834.8 C211.9 836.3 214.6 835.9 216.8 837.4 C219.4 839.2 221.8 842.2 223.8 845.3 C226.0 848.8 227.6 853.3 229.1 857.6 C230.6 862.1 231.4 866.9 232.6 871.6 C233.8 876.3 234.9 880.8 236.1 885.6 C237.4 890.6 238.3 895.5 240.0 901.0 C242.1 907.7 245.3 916.2 248.2 922.9 C250.8 928.8 254.0 933.6 256.4 939.3 C258.8 945.2 260.6 951.7 262.5 957.7 C264.3 963.3 265.5 969.8 267.6 974.0 C269.1 977.0 270.6 980.8 272.7 981.2 C274.9 981.7 278.1 976.9 280.9 976.1 C283.5 975.4 286.3 975.6 289.0 976.1 C291.8 976.6 294.4 978.8 297.2 979.1 C299.9 979.4 302.5 978.7 305.4 978.1 C308.6 977.4 312.5 976.6 315.6 975.0 C318.6 973.5 320.9 970.8 323.8 968.9 C326.9 966.9 330.9 963.1 333.8 963.5 C336.5 963.9 338.9 967.3 340.9 970.2 C343.5 973.9 345.0 979.5 347.0 984.5 C349.1 989.8 350.5 996.3 353.1 1000.9 C355.4 1004.9 358.7 1007.3 361.3 1011.1 C364.2 1015.4 366.7 1020.9 369.5 1025.4 C372.2 1029.7 374.6 1033.9 377.7 1037.7 C380.8 1041.4 384.0 1044.9 387.9 1047.9 C392.1 1051.1 397.1 1054.1 402.2 1056.1 C407.3 1058.1 413.5 1059.2 418.5 1060.1 C422.6 1060.8 425.5 1060.7 430.0 1061.4 C436.4 1062.4 445.6 1064.8 453.4 1066.1 C461.2 1067.3 468.9 1068.1 476.7 1068.9 C484.5 1069.8 492.6 1070.6 500.1 1071.2 C507.0 1071.8 510.3 1072.2 520.0 1072.5 C546.6 1073.4 619.3 1072.7 669.0 1072.8"/>
<path stroke="#ff00ff" d="M91.8 1073.0 C92.9 1072.9 94.0 1072.9 95.2 1072.8 C96.7 1072.7 98.6 1072.6 100.0 1072.3 C101.3 1072.0 102.3 1071.9 103.4 1071.0 C105.2 1069.6 107.1 1066.4 108.5 1063.4 C110.1 1059.9 111.0 1055.4 112.1 1051.1 C113.3 1046.3 114.2 1040.9 115.1 1035.8 C116.0 1030.7 116.9 1025.8 117.7 1020.4 C118.6 1014.3 119.3 1005.6 120.3 1001.0 C120.9 998.4 121.5 997.4 122.1 995.1 C122.9 991.9 123.7 987.3 124.5 983.4 C125.3 979.5 125.9 975.4 126.8 971.8 C127.6 968.5 128.3 965.0 129.7 962.4 C130.9 960.1 133.0 958.8 134.4 956.6 C136.0 954.2 137.4 951.3 138.5 948.4 C139.6 945.4 140.2 942.5 140.8 939.0 C141.6 934.8 142.0 929.9 142.6 925.0 C143.2 919.5 143.8 913.2 144.3 907.5 C144.8 902.2 145.3 897.5 145.8 892.0 C146.4 885.8 147.0 878.0 147.6 872.0 C148.1 867.1 148.5 863.6 148.9 858.8 C149.4 852.9 149.8 845.7 150.2 839.1 C150.6 832.5 151.0 826.0 151.5 819.4 C152.1 812.8 152.8 806.3 153.5 799.7 C154.1 793.1 154.7 785.4 155.4 780.0 C155.9 776.2 156.3 773.9 156.8 770.3 C157.4 765.9 158.2 760.1 159.0 755.7 C159.7 752.0 159.9 748.1 161.2 745.5 C162.2 743.6 163.7 741.3 165.1 741.1 C166.4 741.0 168.0 742.5 169.2 744.0 C170.8 746.0 171.7 749.6 172.8 752.8 C174.1 756.4 175.2 760.7 176.5 764.5 C177.7 768.0 178.6 771.9 180.1 774.7 C181.3 777.0 183.0 780.0 184.5 780.5 C185.5 780.8 186.4 779.9 187.5 779.5 C188.7 779.0 190.3 777.8 191.4 777.9 C192.4 778.0 193.2 778.8 194.0 779.8 C195.2 781.2 196.1 783.9 196.9 786.4 C197.9 789.3 198.3 792.5 199.3 796.3 C200.7 801.3 202.7 808.1 204.5 813.8 C206.2 819.2 208.0 824.5 209.8 829.6 C211.5 834.4 213.3 838.9 215.0 843.6 C216.8 848.3 218.5 852.9 220.3 857.6 C222.0 862.3 223.8 866.9 225.5 871.6 C227.3 876.3 229.1 880.9 230.8 885.6 C232.6 890.4 234.0 895.7 236.0 900.0 C237.8 903.9 239.9 907.1 242.0 910.5 C244.1 913.9 246.1 917.3 248.5 920.5 C250.9 923.8 253.6 928.4 256.4 930.1 C258.4 931.3 260.5 932.0 262.5 931.5 C265.0 930.9 267.5 928.0 269.6 925.0 C272.6 920.7 274.3 911.8 276.8 906.6 C278.8 902.6 280.6 898.4 282.9 896.3 C284.5 894.9 286.3 893.7 288.0 893.9 C290.0 894.1 292.5 896.2 294.2 898.4 C296.5 901.3 297.6 906.0 299.3 910.7 C301.4 916.6 303.4 924.3 305.4 931.1 C307.4 937.9 309.7 946.0 311.5 951.5 C312.8 955.3 313.7 957.5 315.0 961.0 C316.6 965.5 318.7 972.1 320.4 976.3 C321.6 979.4 322.5 981.6 323.8 984.2 C325.2 987.0 327.1 990.1 328.6 992.7 C329.8 994.8 330.8 996.4 332.0 998.5 C333.5 1001.1 335.3 1004.4 336.8 1007.0 C338.0 1009.1 338.9 1010.7 340.1 1012.8 C341.6 1015.4 343.1 1018.3 345.0 1021.3 C347.3 1024.9 350.2 1029.4 353.1 1032.6 C355.7 1035.4 358.2 1037.5 361.3 1039.7 C364.9 1042.3 369.5 1044.7 373.6 1046.9 C377.6 1049.1 381.5 1051.2 385.8 1053.0 C390.3 1054.9 395.3 1056.6 400.1 1058.1 C404.8 1059.6 409.4 1061.0 414.4 1062.2 C419.7 1063.4 425.2 1064.3 430.8 1065.3 C436.6 1066.4 442.7 1067.4 448.7 1068.4 C454.9 1069.4 461.8 1070.5 467.4 1071.2 C472.0 1071.8 473.3 1072.2 480.0 1072.6 C505.8 1074.0 605.3 1072.7 668.0 1072.8"/>
</g>
<text transform="translate(91.8 1101.7) scale(1 1.020)" text-anchor="middle" class="t">0</text>
<text transform="translate(149.6 1101.7) scale(1 1.020)" text-anchor="middle" class="t">5</text>
<text transform="translate(207.3 1101.7) scale(1 1.020)" text-anchor="middle" class="t">10</text>
<text transform="translate(265.1 1101.7) scale(1 1.020)" text-anchor="middle" class="t">15</text>
<text transform="translate(322.8 1101.7) scale(1 1.020)" text-anchor="middle" class="t">20</text>
<text transform="translate(380.6 1101.7) scale(1 1.020)" text-anchor="middle" class="t">25</text>
<text transform="translate(438.4 1101.7) scale(1 1.020)" text-anchor="middle" class="t">30</text>
<text transform="translate(496.1 1101.7) scale(1 1.020)" text-anchor="middle" class="t">35</text>
<text transform="translate(553.9 1101.7) scale(1 1.020)" text-anchor="middle" class="t">40</text>
<text transform="translate(611.6 1101.7) scale(1 1.020)" text-anchor="middle" class="t">45</text>
<text transform="translate(669.4 1101.7) scale(1 1.020)" text-anchor="middle" class="t">50</text>
<text transform="translate(81.4 1080.0) scale(1 1.020)" text-anchor="end" class="t">0.0</text>
<text transform="translate(81.4 1002.4) scale(1 1.020)" text-anchor="end" class="t">0.4</text>
<text transform="translate(81.4 924.8) scale(1 1.020)" text-anchor="end" class="t">0.8</text>
<text transform="translate(81.4 847.1) scale(1 1.020)" text-anchor="end" class="t">1.2</text>
<text transform="translate(81.4 769.5) scale(1 1.020)" text-anchor="end" class="t">1.6</text>
<text transform="translate(81.4 691.9) scale(1 1.020)" text-anchor="end" class="t">2.0</text>
<text transform="translate(81.4 614.3) scale(1 1.020)" text-anchor="end" class="t">2.4</text>
<text x="380.8" y="1142.5" text-anchor="middle" class="xt">Energy (eV)</text>
<text transform="translate(35.7 801.9) rotate(-90)" text-anchor="middle" class="yt"><tspan font-style="italic">k</tspan>(ω)</text>
<text x="91.8" y="599.7" class="pl">(b)</text>
<rect x="516.4" y="612.3" width="148.9" height="183.4" fill="none" stroke="#5a5a5a" stroke-width="1.3"/>
<path d="M519.8 628.5H572.7" stroke="#ff0000" stroke-width="4.0" stroke-linecap="round"/>
<text x="577.5" y="636.8" class="lg">LiGeSe<tspan dx="0.8" dy="6.3">3</tspan></text>
<path d="M519.8 663.8H572.7" stroke="#00ff00" stroke-width="4.0" stroke-linecap="round"/>
<text x="582.2" y="672.1" class="lg">NaGeSe<tspan dx="0.8" dy="6.3">3</tspan></text>
<path d="M519.8 700.4H572.7" stroke="#0000ff" stroke-width="4.0" stroke-linecap="round"/>
<text x="582.2" y="708.7" class="lg">KGeSe<tspan dx="0.8" dy="6.3">3</tspan></text>
<path d="M519.8 736.6H572.7" stroke="#00ffff" stroke-width="2.0" stroke-linecap="round"/>
<text x="577.5" y="744.9" class="lg">RbGeSe<tspan dx="0.8" dy="6.3">3</tspan></text>
<path d="M519.8 772.6H572.7" stroke="#ff00ff" stroke-width="4.0" stroke-linecap="round"/>
<text x="577.5" y="780.9" class="lg">CsGeSe<tspan dx="0.8" dy="6.3">3</tspan></text>
</g>
<rect x="94.2" y="1177.2" width="577.5" height="465.8" fill="none" stroke="#000" stroke-width="3.4"/>
<path d="M123.1 1643.0V1638.2M151.9 1643.0V1634.0M180.8 1643.0V1638.2M209.7 1643.0V1634.0M238.6 1643.0V1638.2M267.4 1643.0V1634.0M296.3 1643.0V1638.2M325.2 1643.0V1634.0M354.1 1643.0V1638.2M382.9 1643.0V1634.0M411.8 1643.0V1638.2M440.7 1643.0V1634.0M469.6 1643.0V1638.2M498.4 1643.0V1634.0M527.3 1643.0V1638.2M556.2 1643.0V1634.0M585.1 1643.0V1638.2M614.0 1643.0V1634.0M642.8 1643.0V1638.2M94.2 1604.2H99.0M94.2 1565.4H103.2M94.2 1526.5H99.0M94.2 1487.7H103.2M94.2 1448.9H99.0M94.2 1410.1H103.2M94.2 1371.3H99.0M94.2 1332.5H103.2M94.2 1293.7H99.0M94.2 1254.8H103.2M94.2 1216.0H99.0" stroke="#000" stroke-width="3.5" fill="none"/>
<clipPath id="clipc"><rect x="94.2" y="1177.2" width="577.5" height="466.8"/></clipPath>
<g clip-path="url(#clipc)" fill="none" stroke-width="3.8" stroke-linejoin="round" stroke-linecap="round">
<path stroke="#ff0000" d="M94.2 1642.3 C96.9 1641.7 99.9 1641.8 102.3 1640.6 C104.6 1639.5 106.7 1638.0 108.4 1635.5 C110.8 1632.0 112.0 1625.5 113.5 1620.1 C115.1 1614.3 116.4 1608.0 117.6 1601.7 C118.8 1595.1 119.5 1588.1 120.7 1581.3 C121.9 1574.5 123.5 1567.7 124.7 1560.9 C125.9 1554.1 126.8 1547.2 127.8 1540.4 C128.8 1533.6 129.9 1525.1 130.9 1520.0 C131.5 1516.9 132.1 1515.6 132.7 1512.6 C133.6 1508.0 134.2 1500.9 135.0 1495.1 C135.8 1489.3 136.5 1483.4 137.4 1477.6 C138.3 1471.8 139.4 1465.9 140.3 1460.1 C141.2 1454.3 141.7 1448.4 142.6 1442.6 C143.5 1436.7 144.4 1430.8 145.5 1425.0 C146.6 1419.1 147.7 1413.3 149.1 1407.5 C150.5 1401.6 152.5 1395.8 153.9 1390.0 C155.3 1384.2 156.5 1378.4 157.5 1372.6 C158.5 1366.8 159.2 1360.9 160.1 1355.1 C161.0 1349.3 161.9 1343.4 162.8 1337.6 C163.7 1331.8 164.5 1325.9 165.4 1320.1 C166.3 1314.3 167.1 1308.1 168.0 1302.6 C168.8 1297.6 169.8 1293.0 170.7 1288.5 C171.6 1284.3 171.8 1279.2 173.3 1276.3 C174.3 1274.3 175.7 1272.2 177.1 1271.9 C178.3 1271.6 180.1 1272.6 181.2 1273.7 C182.8 1275.3 183.5 1278.7 184.7 1281.5 C186.1 1284.7 187.7 1288.5 189.1 1292.0 C190.6 1295.5 191.8 1299.2 193.4 1302.6 C195.0 1305.9 196.6 1309.6 198.7 1312.2 C200.5 1314.4 203.0 1315.5 204.8 1317.4 C206.5 1319.3 208.0 1321.2 209.2 1323.6 C210.7 1326.5 211.5 1330.3 212.7 1334.1 C214.1 1338.4 215.6 1343.4 217.1 1348.1 C218.6 1352.8 219.9 1357.5 221.5 1362.1 C223.1 1366.8 225.1 1371.6 226.7 1376.1 C228.2 1380.3 229.2 1383.4 230.9 1388.5 C233.6 1396.7 237.3 1411.3 240.9 1420.7 C243.8 1428.4 247.0 1434.3 250.1 1441.1 C253.2 1447.9 256.3 1454.9 259.3 1461.5 C262.1 1467.8 264.8 1473.9 267.4 1479.9 C269.9 1485.5 272.2 1490.7 274.6 1496.3 C277.1 1502.1 279.3 1507.6 282.0 1514.0 C285.2 1521.8 289.0 1531.7 292.7 1539.7 C296.0 1547.0 299.4 1553.5 302.9 1560.1 C306.2 1566.4 309.9 1573.5 313.1 1578.5 C315.5 1582.3 317.6 1584.5 320.0 1588.0 C322.9 1592.2 326.0 1597.9 329.3 1602.0 C332.3 1605.6 335.2 1608.9 338.7 1611.4 C342.2 1613.9 346.1 1615.4 350.4 1617.2 C355.3 1619.3 361.1 1621.2 366.7 1623.1 C372.7 1625.1 378.8 1627.1 385.4 1628.9 C392.7 1630.9 400.6 1633.2 408.8 1634.7 C417.7 1636.4 427.9 1637.4 436.8 1638.3 C444.9 1639.1 451.9 1639.4 460.2 1639.9 C469.5 1640.5 475.9 1641.1 490.0 1641.5 C524.9 1642.5 611.1 1642.0 671.7 1642.3"/>
<path stroke="#00ff00" d="M94.2 1642.3 C97.9 1641.9 102.2 1642.1 105.3 1641.1 C107.8 1640.3 109.8 1639.6 111.5 1637.5 C114.0 1634.4 115.1 1627.7 116.6 1622.2 C118.3 1615.9 119.5 1608.5 120.7 1601.7 C121.9 1594.9 122.6 1588.1 123.7 1581.3 C124.8 1574.5 126.2 1567.7 127.3 1560.9 C128.4 1554.1 129.4 1547.2 130.4 1540.4 C131.4 1533.6 132.5 1525.1 133.4 1520.0 C134.0 1516.9 134.4 1515.6 135.0 1512.6 C135.9 1508.0 137.1 1500.9 138.0 1495.1 C138.9 1489.3 139.4 1483.4 140.3 1477.6 C141.2 1471.8 142.3 1465.9 143.2 1460.1 C144.1 1454.3 144.6 1448.4 145.5 1442.6 C146.4 1436.7 147.4 1430.9 148.5 1425.0 C149.6 1419.2 150.7 1413.3 152.0 1407.5 C153.3 1401.7 154.8 1395.6 156.1 1390.0 C157.3 1384.8 158.4 1379.9 159.5 1375.0 C160.5 1370.3 161.5 1365.1 162.5 1361.0 C163.3 1357.7 164.0 1354.3 165.0 1352.0 C165.7 1350.4 166.5 1349.8 167.2 1348.1 C168.2 1345.5 169.0 1341.4 169.8 1337.6 C170.7 1333.3 171.6 1328.4 172.4 1323.6 C173.3 1318.5 174.1 1312.9 175.0 1307.8 C175.9 1303.0 176.8 1298.3 177.7 1293.8 C178.6 1289.6 179.0 1284.9 180.3 1281.5 C181.3 1278.9 182.8 1274.9 184.1 1274.9 C185.4 1274.9 187.1 1278.9 188.2 1281.5 C189.5 1284.5 189.9 1288.5 190.8 1292.0 C191.7 1295.5 192.5 1298.9 193.4 1302.6 C194.3 1306.5 195.0 1311.1 196.1 1314.8 C197.1 1318.0 198.2 1320.7 199.6 1323.6 C201.1 1326.6 203.0 1329.6 204.8 1332.3 C206.5 1334.8 208.4 1336.8 210.1 1339.3 C211.9 1342.0 213.7 1344.9 215.3 1348.1 C217.2 1351.8 218.7 1356.3 220.6 1360.4 C222.5 1364.5 224.8 1368.2 226.7 1372.6 C228.8 1377.4 230.5 1382.4 232.5 1388.0 C234.9 1394.7 237.4 1403.1 239.9 1410.4 C242.3 1417.4 244.6 1424.1 247.0 1430.9 C249.4 1437.7 251.8 1444.5 254.2 1451.3 C256.6 1458.1 259.0 1465.3 261.3 1471.7 C263.4 1477.5 265.4 1482.6 267.4 1488.1 C269.5 1493.6 271.5 1499.0 273.6 1504.5 C275.8 1510.1 277.9 1515.2 280.4 1521.3 C283.5 1528.7 287.1 1538.1 290.7 1545.8 C294.0 1553.0 297.6 1560.1 300.9 1566.3 C303.7 1571.5 306.2 1576.1 309.0 1580.6 C311.6 1584.9 315.2 1589.7 317.2 1592.8 C318.4 1594.7 318.7 1595.6 320.0 1597.4 C322.1 1600.5 325.7 1605.8 329.3 1609.1 C332.8 1612.3 336.8 1614.9 341.0 1617.2 C345.3 1619.6 349.9 1621.4 355.0 1623.1 C360.7 1625.0 367.1 1626.1 373.7 1627.7 C381.1 1629.5 388.9 1632.1 397.1 1633.6 C406.0 1635.3 416.2 1636.2 425.1 1637.1 C433.2 1637.9 440.1 1638.6 448.5 1639.0 C458.2 1639.5 468.9 1639.3 480.0 1639.4 C492.5 1639.5 506.7 1639.5 520.0 1639.5 C533.3 1639.5 546.7 1639.6 560.0 1639.5 C573.3 1639.4 586.7 1639.2 600.0 1639.0 C613.3 1638.9 627.4 1638.7 640.0 1638.6 C651.2 1638.5 661.1 1638.6 671.7 1638.6"/>
<path stroke="#0000ff" d="M94.2 1642.3 C99.3 1641.9 105.8 1642.4 109.4 1641.1 C111.7 1640.3 113.0 1639.5 114.5 1637.5 C116.8 1634.4 118.1 1627.7 119.6 1622.2 C121.3 1615.9 122.5 1608.5 123.7 1601.7 C124.9 1594.9 125.7 1588.1 126.8 1581.3 C127.9 1574.5 129.3 1567.7 130.4 1560.9 C131.5 1554.1 132.4 1547.0 133.4 1540.4 C134.4 1534.1 135.4 1527.1 136.4 1522.0 C137.1 1518.3 137.8 1516.2 138.5 1512.6 C139.5 1507.7 140.4 1500.3 141.5 1495.1 C142.4 1490.8 143.3 1487.0 144.4 1483.4 C145.4 1480.1 146.3 1476.5 147.9 1474.1 C149.2 1472.1 151.3 1471.4 152.6 1469.4 C154.2 1466.9 155.4 1464.0 156.4 1460.1 C157.9 1454.1 158.1 1444.5 159.2 1436.7 C160.3 1428.9 162.1 1420.1 163.1 1413.4 C163.8 1408.3 164.3 1404.1 164.7 1400.0 C165.0 1396.4 165.0 1393.6 165.4 1390.0 C165.8 1385.7 166.4 1380.6 167.2 1376.1 C167.9 1371.9 168.7 1367.8 169.8 1363.9 C170.8 1360.2 172.1 1356.9 173.3 1353.4 C174.5 1349.9 175.8 1346.4 176.8 1342.9 C177.8 1339.4 178.3 1335.6 179.4 1332.3 C180.4 1329.2 181.3 1325.9 182.9 1323.6 C184.2 1321.7 186.0 1319.3 187.7 1319.2 C189.3 1319.1 191.2 1321.1 192.6 1322.7 C194.3 1324.7 195.6 1327.6 196.9 1330.6 C198.5 1334.2 199.8 1338.8 201.3 1342.9 C202.8 1347.0 204.1 1351.4 205.7 1355.1 C207.1 1358.3 208.7 1360.8 210.1 1363.9 C211.6 1367.2 213.1 1370.7 214.5 1374.4 C216.0 1378.3 217.5 1382.8 218.8 1386.6 C220.0 1389.9 220.8 1392.8 222.0 1396.0 C223.3 1399.4 225.0 1402.3 226.6 1406.3 C228.8 1411.5 231.4 1418.4 233.7 1424.7 C236.1 1431.3 238.6 1438.5 240.9 1445.2 C243.0 1451.5 245.1 1457.6 247.0 1463.6 C248.8 1469.2 250.4 1474.5 252.1 1479.9 C253.8 1485.4 255.5 1490.8 257.2 1496.3 C258.9 1501.7 260.5 1507.4 262.3 1512.6 C264.0 1517.5 265.6 1522.5 267.4 1526.9 C269.0 1530.8 270.5 1533.6 272.3 1537.7 C274.7 1543.0 277.7 1550.9 280.4 1556.1 C282.5 1560.1 284.3 1563.0 286.6 1566.3 C289.0 1569.8 292.3 1573.0 294.7 1576.5 C297.0 1579.8 298.5 1583.6 300.9 1586.7 C303.3 1589.7 305.8 1593.4 309.0 1594.9 C312.2 1596.3 316.3 1595.2 320.0 1595.5 C323.8 1595.8 327.9 1595.9 331.7 1596.9 C335.7 1597.9 339.8 1600.0 343.4 1601.6 C346.7 1603.1 349.3 1605.2 352.7 1606.3 C356.3 1607.4 360.8 1608.4 364.4 1607.9 C367.7 1607.4 370.5 1605.0 373.7 1603.9 C376.8 1602.9 379.8 1601.9 383.1 1601.6 C386.7 1601.2 391.0 1601.7 394.7 1602.0 C398.0 1602.3 401.0 1602.5 404.1 1603.2 C407.2 1603.9 410.2 1605.1 413.4 1606.3 C417.1 1607.7 421.2 1609.6 425.1 1611.4 C429.0 1613.2 432.9 1615.3 436.8 1617.2 C440.7 1619.1 444.6 1621.0 448.5 1622.6 C452.4 1624.1 456.4 1625.6 460.2 1626.6 C463.6 1627.5 466.8 1627.7 470.0 1628.5 C473.2 1629.3 475.8 1630.9 479.3 1631.6 C483.5 1632.4 488.7 1632.4 493.4 1632.7 C498.1 1633.0 502.6 1633.2 507.4 1633.4 C512.6 1633.6 518.7 1633.6 523.7 1633.9 C527.9 1634.1 531.3 1634.4 535.4 1634.8 C539.9 1635.2 545.2 1635.7 549.4 1636.3 C552.9 1636.8 555.7 1637.3 558.8 1637.9 C561.9 1638.6 565.0 1639.6 568.1 1640.2 C571.2 1640.8 574.1 1641.1 577.5 1641.4 C581.4 1641.8 584.0 1642.0 590.0 1642.2 C605.3 1642.7 644.5 1642.3 671.7 1642.3"/>
<path stroke="#00ffff" d="M94.2 1642.3 C100.1 1642.1 107.8 1643.0 112.0 1641.8 C114.5 1641.1 116.1 1640.5 117.6 1638.5 C120.0 1635.3 120.9 1628.0 122.2 1622.2 C123.7 1615.8 124.7 1608.5 125.8 1601.7 C126.9 1594.9 127.7 1588.1 128.8 1581.3 C129.9 1574.5 131.3 1567.7 132.4 1560.9 C133.5 1554.1 134.3 1547.0 135.5 1540.4 C136.6 1534.1 138.2 1527.9 139.2 1522.0 C140.1 1516.7 140.6 1512.0 141.5 1506.8 C142.5 1501.3 143.6 1495.1 144.8 1490.0 C145.9 1485.6 147.0 1481.3 148.3 1478.0 C149.3 1475.5 150.6 1474.3 151.6 1471.8 C152.9 1468.6 153.8 1464.7 154.6 1460.1 C155.7 1453.7 156.0 1444.5 156.9 1436.7 C157.8 1428.9 159.4 1420.1 160.1 1413.4 C160.7 1408.3 160.8 1404.1 161.2 1400.0 C161.6 1396.4 162.1 1393.6 162.5 1390.0 C163.0 1385.8 163.1 1381.0 163.7 1376.1 C164.3 1370.6 165.0 1363.8 166.3 1358.6 C167.4 1354.1 169.1 1349.9 170.7 1346.4 C172.0 1343.6 173.3 1341.4 175.0 1339.3 C176.6 1337.3 178.6 1335.7 180.3 1334.1 C181.9 1332.6 183.7 1329.6 185.2 1329.7 C186.9 1329.9 188.5 1333.3 189.9 1335.8 C191.7 1339.1 193.0 1344.0 194.3 1348.1 C195.6 1352.2 196.6 1356.3 197.8 1360.4 C199.0 1364.5 199.9 1368.7 201.3 1372.6 C202.6 1376.3 203.9 1379.9 205.7 1383.1 C207.3 1386.0 209.5 1387.9 211.4 1391.0 C213.7 1394.8 216.3 1399.6 218.4 1404.3 C220.7 1409.4 222.7 1414.9 224.5 1420.7 C226.5 1427.1 227.9 1434.5 229.6 1441.1 C231.3 1447.4 232.8 1453.4 234.7 1459.5 C236.6 1465.7 238.8 1472.0 240.9 1477.9 C242.9 1483.5 245.1 1488.9 247.0 1494.2 C248.8 1499.1 250.1 1504.0 252.1 1508.5 C254.0 1512.7 256.7 1516.7 258.5 1520.5 C260.1 1523.8 261.2 1526.8 262.5 1530.0 C263.8 1533.2 264.8 1536.1 266.1 1539.7 C267.7 1544.0 268.8 1550.9 271.2 1554.0 C272.9 1556.2 275.2 1558.0 277.4 1558.1 C279.7 1558.2 282.0 1555.4 284.5 1554.0 C287.3 1552.5 290.6 1549.8 293.7 1549.3 C296.7 1548.8 299.7 1550.5 302.9 1550.9 C306.2 1551.4 310.0 1552.6 313.1 1552.0 C316.1 1551.5 318.7 1549.7 321.3 1547.9 C324.2 1546.0 326.8 1541.9 329.5 1540.7 C331.5 1539.8 333.7 1539.5 335.6 1540.1 C337.8 1540.9 339.9 1543.1 341.7 1545.8 C344.3 1549.7 345.5 1557.3 347.9 1562.2 C350.0 1566.6 352.2 1570.0 355.0 1574.0 C358.2 1578.6 362.7 1583.1 366.5 1588.0 C370.5 1593.2 374.6 1599.4 378.4 1604.4 C381.6 1608.7 384.1 1612.9 387.7 1616.1 C391.1 1619.1 395.2 1621.2 399.4 1623.1 C403.8 1625.1 408.4 1626.2 413.4 1627.7 C419.2 1629.4 425.8 1631.2 432.1 1632.4 C438.3 1633.6 443.9 1634.0 450.8 1634.7 C459.4 1635.6 470.7 1636.1 480.0 1637.1 C488.7 1638.0 496.7 1639.4 505.0 1640.2 C513.3 1641.0 518.3 1641.4 530.0 1641.8 C557.9 1642.7 624.5 1642.1 671.7 1642.3"/>
<path stroke="#ff00ff" d="M94.2 1642.3 C102.7 1642.1 115.4 1644.0 119.6 1641.8 C121.5 1640.8 121.8 1639.5 122.7 1637.5 C124.3 1634.1 125.6 1627.7 126.8 1622.2 C128.1 1615.9 128.9 1608.5 129.9 1601.7 C130.9 1594.9 131.9 1588.1 132.9 1581.3 C133.9 1574.5 135.0 1567.7 136.0 1560.9 C137.0 1554.1 138.1 1547.2 139.0 1540.4 C139.9 1533.6 140.5 1525.1 141.6 1520.0 C142.3 1516.9 143.1 1515.6 143.8 1512.6 C144.9 1508.0 145.8 1500.9 146.7 1495.1 C147.6 1489.3 148.2 1483.4 149.1 1477.6 C150.0 1471.8 151.2 1466.4 152.0 1460.1 C153.0 1452.9 153.6 1444.5 154.3 1436.7 C155.1 1428.8 155.7 1420.0 156.5 1413.0 C157.1 1407.4 157.9 1403.2 158.6 1398.0 C159.4 1392.3 160.1 1386.0 160.8 1380.0 C161.5 1374.0 162.0 1367.7 162.8 1362.1 C163.5 1357.1 164.1 1351.7 165.4 1348.1 C166.3 1345.6 167.2 1342.7 168.9 1342.0 C170.5 1341.4 173.0 1343.1 175.0 1343.7 C177.1 1344.3 179.4 1344.3 181.2 1345.5 C183.2 1346.8 184.9 1349.3 186.4 1351.6 C188.1 1354.2 189.4 1357.3 190.8 1360.4 C192.3 1363.7 193.7 1367.4 195.2 1370.9 C196.7 1374.4 198.0 1378.1 199.6 1381.4 C201.1 1384.5 202.6 1387.3 204.4 1390.0 C206.1 1392.6 208.6 1395.2 210.1 1397.2 C211.1 1398.5 211.6 1399.0 212.5 1400.5 C214.1 1403.2 216.7 1408.1 218.4 1412.5 C220.4 1417.4 221.8 1423.2 223.5 1428.8 C225.3 1434.7 227.1 1441.0 228.6 1447.2 C230.1 1453.3 231.3 1459.5 232.7 1465.6 C234.1 1471.7 235.1 1479.0 236.8 1484.0 C238.0 1487.7 239.0 1491.4 240.9 1493.2 C242.3 1494.6 244.3 1495.7 246.0 1495.3 C248.3 1494.8 250.5 1490.2 253.1 1488.1 C255.6 1486.1 258.7 1483.1 261.3 1483.0 C263.5 1482.9 265.5 1484.7 267.4 1486.1 C269.6 1487.7 271.2 1491.4 273.6 1492.2 C276.0 1493.0 279.2 1491.6 281.7 1491.2 C283.9 1490.9 285.7 1489.8 287.9 1490.1 C290.5 1490.5 293.8 1492.2 296.1 1494.2 C298.6 1496.3 300.3 1499.3 302.2 1502.4 C304.4 1506.0 306.4 1510.2 308.3 1514.7 C310.4 1519.7 312.2 1525.5 314.0 1531.0 C315.8 1536.6 317.3 1542.5 319.3 1547.9 C321.2 1552.9 323.1 1557.5 325.4 1562.2 C327.8 1567.0 330.8 1572.0 333.6 1576.5 C336.2 1580.8 339.2 1585.0 341.7 1588.8 C343.9 1592.1 345.8 1595.0 348.0 1598.0 C350.2 1601.0 352.2 1603.9 355.0 1606.7 C358.3 1610.0 362.5 1613.4 366.7 1616.1 C371.0 1618.9 375.8 1621.0 380.7 1623.1 C385.9 1625.3 391.2 1627.2 397.1 1628.9 C403.6 1630.8 410.9 1632.3 418.1 1633.6 C425.7 1635.0 433.7 1636.1 441.5 1637.1 C449.3 1638.1 457.9 1638.8 464.8 1639.4 C470.4 1639.9 474.6 1640.2 480.0 1640.6 C486.2 1641.1 490.1 1641.6 500.0 1642.0 C528.4 1643.0 610.0 1642.2 665.0 1642.3"/>
</g>
<text transform="translate(94.2 1672.1) scale(1 1.020)" text-anchor="middle" class="t">0</text>
<text transform="translate(151.9 1672.1) scale(1 1.020)" text-anchor="middle" class="t">5</text>
<text transform="translate(209.7 1672.1) scale(1 1.020)" text-anchor="middle" class="t">10</text>
<text transform="translate(267.4 1672.1) scale(1 1.020)" text-anchor="middle" class="t">15</text>
<text transform="translate(325.2 1672.1) scale(1 1.020)" text-anchor="middle" class="t">20</text>
<text transform="translate(382.9 1672.1) scale(1 1.020)" text-anchor="middle" class="t">25</text>
<text transform="translate(440.7 1672.1) scale(1 1.020)" text-anchor="middle" class="t">30</text>
<text transform="translate(498.4 1672.1) scale(1 1.020)" text-anchor="middle" class="t">35</text>
<text transform="translate(556.2 1672.1) scale(1 1.020)" text-anchor="middle" class="t">40</text>
<text transform="translate(614.0 1672.1) scale(1 1.020)" text-anchor="middle" class="t">45</text>
<text transform="translate(671.7 1672.1) scale(1 1.020)" text-anchor="middle" class="t">50</text>
<text transform="translate(83.8 1649.8) scale(1 1.020)" text-anchor="end" class="t">0.0</text>
<text transform="translate(83.8 1572.2) scale(1 1.020)" text-anchor="end" class="t">0.4</text>
<text transform="translate(83.8 1494.5) scale(1 1.020)" text-anchor="end" class="t">0.8</text>
<text transform="translate(83.8 1416.9) scale(1 1.020)" text-anchor="end" class="t">1.2</text>
<text transform="translate(83.8 1339.3) scale(1 1.020)" text-anchor="end" class="t">1.6</text>
<text transform="translate(83.8 1261.6) scale(1 1.020)" text-anchor="end" class="t">2.0</text>
<text transform="translate(83.8 1184.0) scale(1 1.020)" text-anchor="end" class="t">2.4</text>
<text x="383.2" y="1708.6" text-anchor="middle" class="xt">Energy (eV)</text>
<text transform="translate(40.1 1374.1) rotate(-90)" text-anchor="middle" class="yt"><tspan font-style="italic">k</tspan>(ω)</text>
<text x="94.2" y="1169.4" class="pl">(c)</text>
<rect x="522.6" y="1180.8" width="146.0" height="184.2" fill="none" stroke="#5a5a5a" stroke-width="1.3"/>
<path d="M525.8 1197.7H578.9" stroke="#ff0000" stroke-width="4.0" stroke-linecap="round"/>
<text x="583.6" y="1206.0" class="lg">LiSnSe<tspan dx="0.8" dy="6.3">3</tspan></text>
<path d="M525.8 1233.6H578.9" stroke="#00ff00" stroke-width="4.0" stroke-linecap="round"/>
<text x="588.8" y="1241.9" class="lg">NaSnSe<tspan dx="0.8" dy="6.3">3</tspan></text>
<path d="M525.8 1270.1H578.9" stroke="#0000ff" stroke-width="4.0" stroke-linecap="round"/>
<text x="588.8" y="1278.4" class="lg">KSnSe<tspan dx="0.8" dy="6.3">3</tspan></text>
<path d="M525.8 1305.8H578.9" stroke="#00ffff" stroke-width="4.0" stroke-linecap="round"/>
<text x="583.6" y="1314.1" class="lg">RbSnSe<tspan dx="0.8" dy="6.3">3</tspan></text>
<path d="M525.8 1342.1H578.9" stroke="#ff00ff" stroke-width="4.0" stroke-linecap="round"/>
<text x="583.6" y="1350.4" class="lg">CsSnSe<tspan dx="0.8" dy="6.3">3</tspan></text>
</svg></body></html>
